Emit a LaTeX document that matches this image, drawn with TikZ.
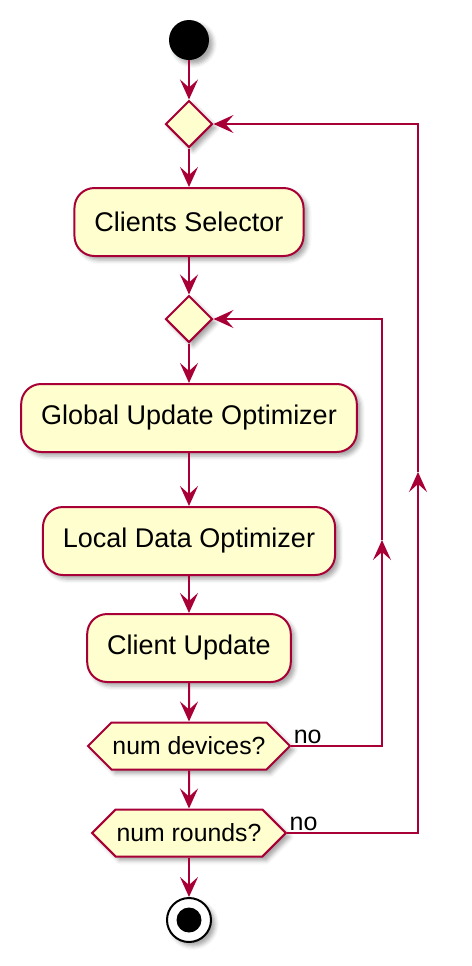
\documentclass[tikz,border=0pt]{standalone}
\usepackage{fontspec}
\setmainfont{Liberation Sans}
\usepackage{xcolor}
\usetikzlibrary{positioning,calc,arrows.meta,shapes.geometric,shapes.symbols,shadows.blur}
\definecolor{umlred}{HTML}{A80036}
\definecolor{umlfill}{HTML}{FEFECE}

\begin{document}
\begin{tikzpicture}[x=0.5pt,y=-0.5pt,>={Stealth[length=10pt,width=9pt,inset=4pt]},
			umlshadow/.style={blur shadow={shadow xshift=2pt,shadow yshift=-2pt,shadow blur radius=2pt,shadow opacity=35}},
			flow/.style={->,draw=umlred,line width=1pt},
			act node/.style={draw=umlred,fill=umlfill,line width=1pt,rectangle,rounded corners=10pt,
				minimum height=34pt,inner xsep=10pt,font=\fontsize{13.5}{16}\selectfont,umlshadow},
			decision/.style={diamond,draw=umlred,fill=umlfill,line width=1pt,minimum size=23.5pt,inner sep=0pt,umlshadow},
			test node/.style={signal,signal to=east and west,signal pointer angle=90,draw=umlred,fill=umlfill,
				line width=1pt,minimum height=23.5pt,inner xsep=0.5pt,inner ysep=0pt,font=\fontsize{12.4}{14}\selectfont,umlshadow},
			label node/.style={font=\fontsize{12.5}{14}\selectfont,inner sep=1pt}]

			\useasboundingbox (0,0) rectangle (472,966);

			\node[circle,fill=black,minimum size=20pt,inner sep=0pt,umlshadow] (1) at (189,40) {};
			\node[decision] (2) at (189,124) {};
			\node[act node] (3) at (189,222) {Clients Selector};
			\node[decision] (4) at (189,319) {};
			\node[act node] (5) at (189,418) {Global Update Optimizer};
			\node[act node] (6) at (189,541) {Local Data Optimizer};
			\node[act node] (7) at (189,648) {Client Update};
			\node[test node] (8) at (189,746) {num devices?};
			\node[test node] (9) at (189,833) {num rounds?};
			\node[circle,draw=black,fill=white,line width=1pt,minimum size=22pt,inner sep=0pt,umlshadow,
				path picture={\fill[black] (path picture bounding box.center) circle (6.25pt);}] (10) at (189,920) {};

			\draw[flow] (1) -- (2);
			\draw[flow] (2) -- (3);
			\draw[flow] (3) -- (4);
			\draw[flow] (4) -- (5);
			\draw[flow] (5) -- (6);
			\draw[flow] (6) -- (7);
			\draw[flow] (7) -- (8);
			\draw[flow] (8) -- (9);
			\draw[flow] (9) -- (10);

			\coordinate (a1) at (382,746);
			\coordinate (a2) at (382,540);
			\coordinate (a3) at (382,319);
			\draw[flow] (8.east) -- (a1) -- (a2);
			\draw[flow] (a2) -- (a3) -- (4.east);

			\coordinate (b1) at (418,833);
			\coordinate (b2) at (418,472);
			\coordinate (b3) at (418,124);
			\draw[flow] (9.east) -- (b1) -- (b2);
			\draw[flow] (b2) -- (b3) -- (2.east);

			\node[label node,anchor=south west] (11) at (8.east) {no};
			\node[label node,anchor=south west] (12) at (9.east) {no};
		\end{tikzpicture}
\end{document}
